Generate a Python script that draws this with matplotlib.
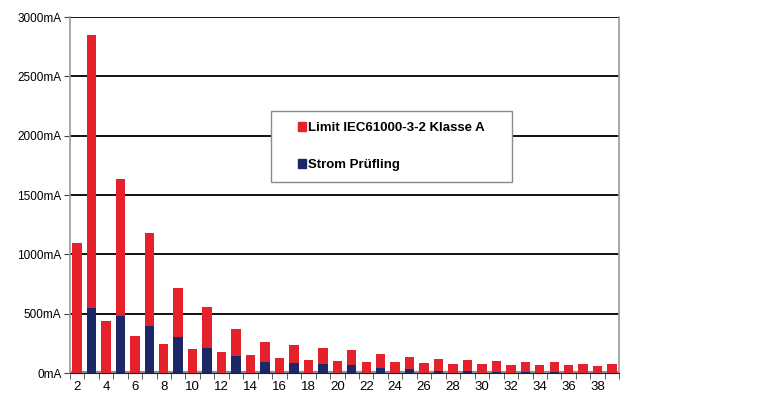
import numpy as np
import matplotlib.pyplot as plt
from matplotlib.patches import Patch, Rectangle

plt.rcParams['font.family'] = ['Liberation Sans', 'DejaVu Sans']

# harmonic order
harmonics = list(range(2, 40))
# measured current of the device under test (mA)
strom = [0, 551, 0, 484, 0, 392, 0, 302, 0, 210, 0, 140, 0, 93,
         0, 84, 0, 76, 0, 65, 0, 45, 0, 31, 0, 20, 0, 14,
         0, 12, 0, 10, 0, 8, 0, 0, 0, 0]
# limit IEC61000-3-2 class A, stacked above the measured current (mA)
limit = [1092, 2300, 442, 1149, 313, 784, 246, 412, 202, 345, 173, 230, 151, 169,
         130, 150, 113, 138, 104, 126, 96, 118, 90, 107, 82, 95, 76, 93,
         73, 92, 71, 86, 67, 82, 65, 79, 62, 73]
yticks = [0, 500, 1000, 1500, 2000, 2500, 3000]
ylabels = [f'{v}mA' for v in yticks]

red = '#e5222b'
blue = '#1c2768'

fig = plt.figure(figsize=(7.58, 4.0), dpi=100)
ax = fig.add_axes([0.092, 0.0675, 0.725, 0.89])

ax.bar(harmonics, strom, width=0.65, color=blue, zorder=3)
ax.bar(harmonics, limit, width=0.65, bottom=strom, color=red, zorder=3)

ax.set_xlim(1.5, 39.5)
ax.set_ylim(0, 3000)
ax.set_yticks(yticks)
ax.set_yticklabels(ylabels)
ax.set_xticks(range(2, 39, 2))
ax.set_xticks(np.arange(1.5, 40, 1), minor=True)
ax.tick_params(axis='x', which='major', length=0, pad=6, labelsize=9.5)
ax.tick_params(axis='x', which='minor', length=4, color='#444444')
ax.tick_params(axis='y', length=4, color='#444444', labelsize=8.5, pad=2)

ax.grid(axis='y', color='#111111', linewidth=1.4, zorder=1)
ax.axhline(0, color='#8c8c8c', linewidth=3, zorder=2)
for s in ['left', 'right']:
    ax.spines[s].set_color('#9a9a9a')
    ax.spines[s].set_linewidth(1.2)
ax.spines['top'].set_visible(False)
ax.spines['bottom'].set_color('#222222')

# legend box
fig.add_artist(Rectangle((270.7 / 758, 1 - 182.3 / 400), 241.6 / 758, 71.6 / 400,
                         transform=fig.transFigure, facecolor='white',
                         edgecolor='#8a8a8a', linewidth=1.0, zorder=5))
handles = [Patch(color=red), Patch(color=blue)]
leg = fig.legend(handles, ['Limit IEC61000-3-2 Klasse A', 'Strom Prüfling'],
                 loc='center', bbox_to_anchor=(391.5 / 758, 1 - 146.5 / 400),
                 frameon=False, handlelength=0.6, handleheight=0.6,
                 handletextpad=0.2, labelspacing=1.9,
                 prop={'weight': 'bold', 'size': 9.5})
leg.set_zorder(6)

plt.savefig('out.png', dpi=100)
